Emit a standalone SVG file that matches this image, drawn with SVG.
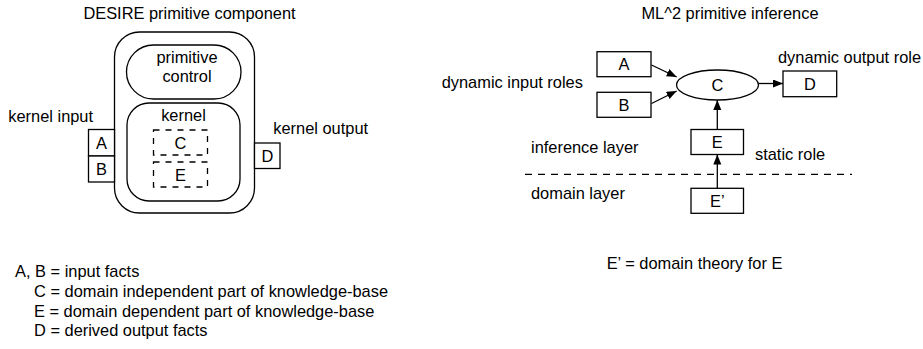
<svg xmlns="http://www.w3.org/2000/svg" width="923" height="349" viewBox="0 0 923 349">
<style>
text{font-family:"Liberation Sans",Arial,Helvetica,sans-serif;font-size:16.4px;fill:#000}
.c{text-anchor:middle}
.box{fill:#fff;stroke:#000;stroke-width:1.3}
.dash{fill:none;stroke:#000;stroke-width:1.3;stroke-dasharray:6 6}
.line{fill:none;stroke:#000;stroke-width:1.3}
.hline{fill:none;stroke:#000;stroke-width:1.3;stroke-dasharray:7 6}
</style>
<defs>
<marker id="arr" markerUnits="userSpaceOnUse" markerWidth="11" markerHeight="9" refX="10" refY="4" orient="auto">
<path d="M0,0 L10,4 L0,8 z" fill="#000"/>
</marker>
</defs>
<rect width="923" height="349" fill="#fff"/>

<!-- Left: DESIRE primitive component -->
<text class="c" x="189.5" y="18.5">DESIRE primitive component</text>
<g id="desire-component">
<rect class="box" x="114.5" y="32" width="140" height="181" rx="25" ry="25"/>
</g>
<g id="primitive-control">
<rect class="box" x="126.5" y="45" width="114.5" height="54" rx="27" ry="27"/>
<text class="c" x="187" y="63">primitive</text>
<text class="c" x="187" y="82">control</text>
</g>
<g id="kernel">
<rect class="box" x="127" y="103" width="113" height="98" rx="22" ry="22"/>
<text class="c" x="183.5" y="120.5">kernel</text>
</g>
<g id="kernel-C">
<rect class="dash" x="153.5" y="130" width="54" height="25"/>
<text class="c" x="180.5" y="148.5">C</text>
</g>
<g id="kernel-E">
<rect class="dash" x="153.5" y="162" width="54" height="25"/>
<text class="c" x="180.5" y="180.5">E</text>
</g>
<g id="input-A">
<rect class="box" x="88.5" y="129.5" width="26" height="26.5"/>
<text class="c" x="101.5" y="149">A</text>
</g>
<g id="input-B">
<rect class="box" x="88.5" y="156" width="26" height="26"/>
<text class="c" x="101.5" y="175">B</text>
</g>
<g id="output-D">
<rect class="box" x="254.5" y="143" width="25.5" height="25.5"/>
<text class="c" x="267.3" y="161.8">D</text>
</g>
<text x="8.3" y="121.7">kernel input</text>
<text x="273.3" y="134.3">kernel output</text>

<!-- Legend -->
<text x="15" y="276.5">A, B = input facts</text>
<text x="34" y="296.5">C = domain independent part of knowledge-base</text>
<text x="34" y="316.5">E = domain dependent part of knowledge-base</text>
<text x="34" y="336">D = derived output facts</text>

<!-- Right: ML^2 primitive inference -->
<text class="c" x="730" y="18.5">ML^2 primitive inference</text>
<text x="441.7" y="88.3">dynamic input roles</text>
<text x="778" y="63">dynamic output role</text>
<text x="531" y="153">inference layer</text>
<text x="755" y="160">static role</text>
<text x="531" y="198.5">domain layer</text>
<text x="606.7" y="268.5">E’ = domain theory for E</text>

<g id="ml-A">
<rect class="box" x="597" y="51.7" width="54" height="25"/>
<text class="c" x="624" y="70">A</text>
</g>
<g id="ml-B">
<rect class="box" x="597" y="92.3" width="54" height="25"/>
<text class="c" x="624" y="110.7">B</text>
</g>
<g id="ml-C">
<ellipse class="box" cx="717.5" cy="85" rx="41" ry="15"/>
<text class="c" x="717.5" y="91">C</text>
</g>
<g id="ml-D">
<rect class="box" x="783" y="71" width="53.7" height="25.7"/>
<text class="c" x="810" y="89.8">D</text>
</g>
<g id="ml-E">
<rect class="box" x="691" y="129.5" width="52.5" height="25"/>
<text class="c" x="717.3" y="148">E</text>
</g>
<g id="ml-Eprime">
<rect class="box" x="691" y="188.3" width="52.5" height="25"/>
<text class="c" x="717.3" y="206.8">E’</text>
</g>

<g id="connectors">
<line class="hline" x1="525" y1="174.3" x2="852" y2="174.3"/>
<line class="line" x1="651.5" y1="65" x2="676.7" y2="77" marker-end="url(#arr)"/>
<line class="line" x1="651.5" y1="103.5" x2="676.7" y2="91" marker-end="url(#arr)"/>
<line class="line" x1="758.5" y1="83.5" x2="783" y2="83.5" marker-end="url(#arr)"/>
<line class="line" x1="717.3" y1="129.5" x2="717.3" y2="100" marker-end="url(#arr)"/>
<line class="line" x1="717.3" y1="188.3" x2="717.3" y2="154.5" marker-end="url(#arr)"/>
</g>
</svg>
